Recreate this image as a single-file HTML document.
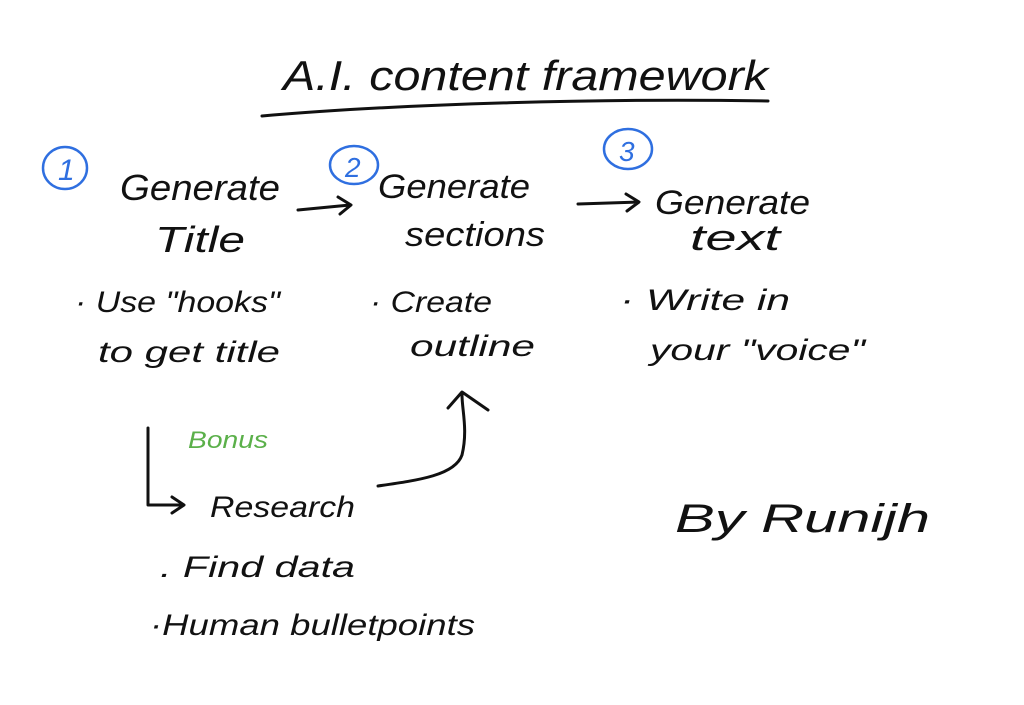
<!DOCTYPE html>
<html><head><meta charset="utf-8"><style>
html,body{margin:0;padding:0;background:#fff;width:1024px;height:705px;overflow:hidden}
svg text{font-family:"Liberation Sans",sans-serif;font-style:italic;fill:#111}
</style></head><body>
<svg width="1024" height="705" viewBox="0 0 1024 705" xmlns="http://www.w3.org/2000/svg">
<g fill="none" stroke="#111" stroke-width="3" stroke-linecap="round" stroke-linejoin="round">
<path d="M262 116 C400 104 600 98 768 101"/>
<path d="M298 210 L350 205 M338 197 L351 205 L340 214"/>
<path d="M578 204 L638 202 M626 194 L639 202 L627 211"/>
<path d="M148 428 L148 505 L183 505 M172 497 L184 505 L172 513"/>
<path d="M378 486 C420 480 455 475 462 455 C468 430 462 410 462 395 M448 408 L462 392 L488 410"/>
</g>
<g fill="none" stroke="#2f6fe0" stroke-width="2.5">
<ellipse cx="65" cy="168" rx="22" ry="21"/>
<ellipse cx="354" cy="165" rx="24" ry="19"/>
<ellipse cx="628" cy="149" rx="24" ry="20"/>
</g>
<text x="58" y="180" font-size="30" style="fill:#2f6fe0">1</text>
<text x="345" y="177" font-size="28" style="fill:#2f6fe0">2</text>
<text x="619" y="161" font-size="28" style="fill:#2f6fe0">3</text>
<text x="283" y="90" font-size="42" textLength="485" lengthAdjust="spacingAndGlyphs">A.I. content framework</text>
<text x="120" y="200" font-size="36" textLength="160" lengthAdjust="spacingAndGlyphs">Generate</text>
<text x="155" y="252" font-size="36" textLength="90" lengthAdjust="spacingAndGlyphs">Title</text>
<text x="378" y="198" font-size="34" textLength="152" lengthAdjust="spacingAndGlyphs">Generate</text>
<text x="405" y="246" font-size="34" textLength="140" lengthAdjust="spacingAndGlyphs">sections</text>
<text x="655" y="214" font-size="34" textLength="155" lengthAdjust="spacingAndGlyphs">Generate</text>
<text x="690" y="250" font-size="36" textLength="90" lengthAdjust="spacingAndGlyphs">text</text>
<text x="75" y="312" font-size="30" textLength="205" lengthAdjust="spacingAndGlyphs">· Use "hooks"</text>
<text x="98" y="362" font-size="30" textLength="182" lengthAdjust="spacingAndGlyphs">to get title</text>
<text x="370" y="312" font-size="30" textLength="122" lengthAdjust="spacingAndGlyphs">· Create</text>
<text x="410" y="356" font-size="30" textLength="125" lengthAdjust="spacingAndGlyphs">outline</text>
<text x="620" y="310" font-size="30" textLength="170" lengthAdjust="spacingAndGlyphs">· Write in</text>
<text x="650" y="360" font-size="30" textLength="215" lengthAdjust="spacingAndGlyphs">your "voice"</text>
<text x="188" y="448" font-size="24" style="fill:#5bb04a" textLength="80" lengthAdjust="spacingAndGlyphs">Bonus</text>
<text x="210" y="517" font-size="30" textLength="145" lengthAdjust="spacingAndGlyphs">Research</text>
<text x="160" y="577" font-size="30" textLength="195" lengthAdjust="spacingAndGlyphs">. Find data</text>
<text x="150" y="635" font-size="30" textLength="325" lengthAdjust="spacingAndGlyphs">·Human bulletpoints</text>
<text x="675" y="532" font-size="40" textLength="255" lengthAdjust="spacingAndGlyphs">By Runijh</text>
</svg>
</body></html>
